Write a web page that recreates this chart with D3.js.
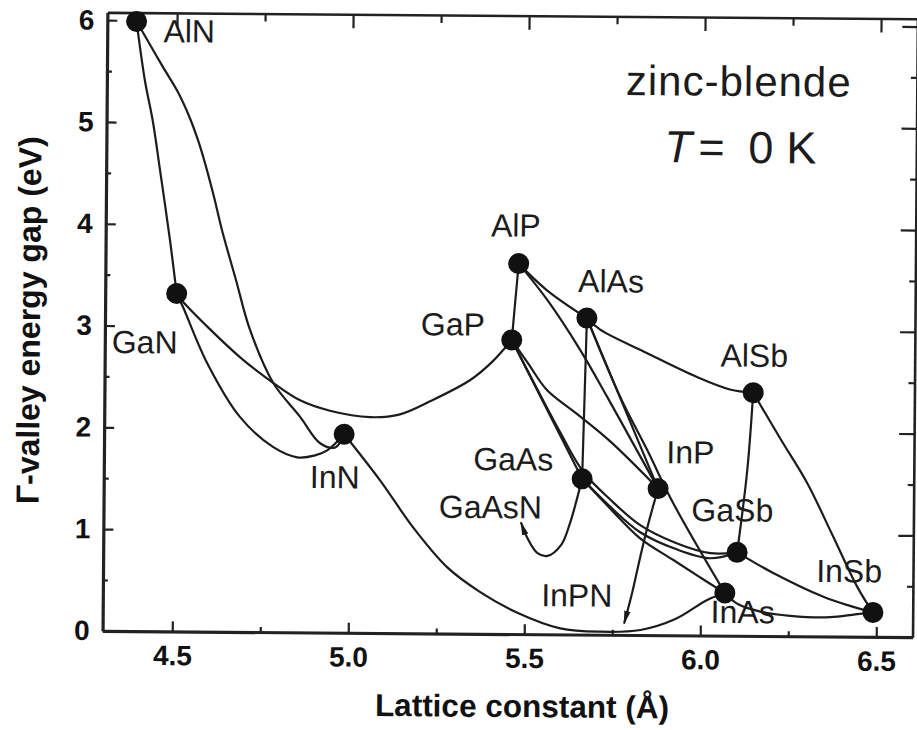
<!DOCTYPE html>
<html>
<head>
<meta charset="utf-8">
<script src="https://cdn.jsdelivr.net/npm/d3@7"></script>
<style>
  html, body { margin: 0; padding: 0; background: #fff; }
  svg { display: block; }
  text { font-family: "Liberation Sans", Arial, Helvetica, sans-serif; }
</style>
</head>
<body>
<svg id="chart" width="917" height="730"></svg>
<script>
// Binary zinc-blende compounds: lattice constant (Å) and Γ-valley gap at 0 K (eV)
const compounds    = ["AlN", "GaN", "InN", "AlP", "GaP", "AlAs", "AlSb", "GaAs", "InP", "GaSb", "InAs", "InSb"];
const latticeConst = [4.385, 4.505, 4.984, 5.476, 5.458, 5.671, 6.145, 5.661, 5.877, 6.103, 6.069, 6.490];
const gapEnergy    = [5.99,  3.32,  1.95,  3.64,  2.89,  3.11,  2.39,  1.53,  1.44,  0.82,  0.42,  0.24];

// Axis ticks
const xMajorTicks = [4.5, 5.0, 5.5, 6.0, 6.5];
const xMinorTicks = [4.75, 5.25, 5.75, 6.25];
const yMajorTicks = [0, 1, 2, 3, 4, 5, 6];
const yMinorTicks = [0.5, 1.5, 2.5, 3.5, 4.5, 5.5];

// Intermediate points [a (Å), Eg (eV)] along each ternary alloy curve
const AlN_GaN  = [[4.410, 5.41], [4.433, 5.02], [4.455, 4.53], [4.485, 3.84]];
const AlN_InN  = [[4.409, 5.85], [4.460, 5.55], [4.504, 5.30], [4.538, 5.05], [4.562, 4.83],
                  [4.582, 4.61], [4.609, 4.27], [4.632, 3.95], [4.673, 3.46], [4.714, 2.97],
                  [4.781, 2.45], [4.858, 2.12], [4.916, 1.86], [4.959, 1.82]];
const GaN_InN  = [[4.523, 3.19], [4.593, 2.64], [4.688, 2.11], [4.782, 1.82], [4.851, 1.72],
                  [4.902, 1.74], [4.936, 1.79]];
const GaN_GaP  = [[4.523, 3.24], [4.686, 2.70], [4.781, 2.45], [4.858, 2.28], [4.943, 2.18],
                  [5.057, 2.12], [5.142, 2.15], [5.227, 2.28], [5.340, 2.49], [5.402, 2.67]];
const InN_InAs = [[5.087, 1.50], [5.182, 1.04], [5.280, 0.65], [5.374, 0.41], [5.480, 0.21],
                  [5.602, 0.06], [5.716, 0.03], [5.830, 0.05], [5.929, 0.16], [6.019, 0.35]];
const AlP_GaP   = [];
const AlP_AlAs  = [[5.557, 3.38]];
const AlP_InP   = [[5.557, 3.29], [5.652, 2.80], [5.730, 2.34], [5.802, 1.90]];
const AlAs_GaAs = [];
const AlAs_InP  = [];
const AlAs_InAs = [[5.767, 2.34], [5.845, 1.82], [5.920, 1.30]];
const AlAs_AlSb = [[5.708, 3.00], [5.843, 2.77], [5.985, 2.54], [6.079, 2.42]];
const AlSb_GaSb = [[6.130, 1.63]];
const AlSb_InSb = [[6.225, 1.93], [6.300, 1.51], [6.373, 1.00], [6.445, 0.49]];
const GaP_GaAs  = [];
const GaP_InP   = [[5.505, 2.66], [5.559, 2.40], [5.640, 2.18], [5.740, 1.90]];
const GaP_GaSb  = [[5.525, 2.45], [5.597, 1.99], [5.664, 1.60], [5.741, 1.33], [5.827, 1.08],
                   [5.927, 0.91], [6.027, 0.81]];
const GaAs_GaSb = [[5.741, 1.26], [5.827, 1.01], [5.927, 0.85], [6.027, 0.76]];
const GaAs_InAs = [[5.747, 1.22], [5.827, 0.95], [5.922, 0.74], [5.999, 0.57]];
const GaSb_InSb = [[6.206, 0.62], [6.349, 0.39], [6.427, 0.30]];
const InAs_InSb = [[6.107, 0.31], [6.170, 0.24], [6.255, 0.20], [6.369, 0.19], [6.440, 0.22]];

// Dilute-nitride branches leaving a binary and ending in an arrow
const GaAsN = [[5.642, 1.27], [5.628, 1.10], [5.603, 0.88], [5.564, 0.77], [5.535, 0.80],
               [5.506, 0.95], [5.489, 1.09]];
const InPN  = [[5.849, 1.08], [5.828, 0.77], [5.806, 0.42], [5.784, 0.12]];

const alloyCurves = [
  ["AlN", "GaN", AlN_GaN], ["AlN", "InN", AlN_InN], ["GaN", "InN", GaN_InN],
  ["GaN", "GaP", GaN_GaP], ["InN", "InAs", InN_InAs],
  ["AlP", "GaP", AlP_GaP], ["AlP", "AlAs", AlP_AlAs], ["AlP", "InP", AlP_InP],
  ["AlAs", "GaAs", AlAs_GaAs], ["AlAs", "InP", AlAs_InP], ["AlAs", "InAs", AlAs_InAs],
  ["AlAs", "AlSb", AlAs_AlSb], ["AlSb", "GaSb", AlSb_GaSb], ["AlSb", "InSb", AlSb_InSb],
  ["GaP", "GaAs", GaP_GaAs], ["GaP", "InP", GaP_InP], ["GaP", "GaSb", GaP_GaSb],
  ["GaAs", "GaSb", GaAs_GaSb], ["GaAs", "InAs", GaAs_InAs],
  ["GaSb", "InSb", GaSb_InSb], ["InAs", "InSb", InAs_InSb]
];
const arrowCurves = [["GaAs", GaAsN], ["InP", InPN]];

// Label placement (pixel offsets from the marker each label belongs to)
const labelOffset = {
  AlN: [27, 20.5], GaN: [-64.5, 60], InN: [-34, 54], AlP: [-28, -27], GaP: [-91, -4],
  AlAs: [-9, -26], AlSb: [-33, -26], GaAs: [-109, -8], InP: [8, -25.5], GaSb: [-46, -31],
  InSb: [-57, -30], InAs: [-14, 30]
};
const curveLabels = [["GaAsN", "GaAs", [-143, 40]], ["InPN", "InP", [-116, 118.5]]];

// ---------------------------------------------------------------------------
const node = {};
compounds.forEach((c, i) => { node[c] = [latticeConst[i], gapEnergy[i]]; });

const frame = { left: 105, right: 915, top: 15.5, bottom: 634 };
const x = d3.scaleLinear().domain([4.302, 4.302 + (frame.right - frame.left) / 352]).range([frame.left, frame.right]);
const y = d3.scaleLinear().domain([0, 6.077]).range([frame.bottom, frame.top]);

const svg = d3.select("#chart");
svg.append("rect").attr("width", 917).attr("height", 730).attr("fill", "#fff");

const defs = svg.append("defs");
defs.append("marker")
  .attr("id", "arrowhead")
  .attr("viewBox", "0 -4 14 8")
  .attr("refX", 12).attr("refY", 0)
  .attr("markerWidth", 14).attr("markerHeight", 8)
  .attr("markerUnits", "userSpaceOnUse")
  .attr("orient", "auto")
  .append("path").attr("d", "M0,-3.2L14,0L0,3.2Z").attr("fill", "#1a1a1a");

const g = svg.append("g").attr("transform", "rotate(0.45,508,321)");

const ink = "#1c1c1c";

// Axes with inward ticks on all four sides
function styleAxis(sel, width) {
  sel.select(".domain").attr("stroke", "#222").attr("stroke-width", width);
  sel.selectAll(".tick line").attr("stroke", "#222").attr("stroke-width", 2.2);
  sel.selectAll(".tick text")
    .attr("fill", "#111")
    .style("font-size", "28px")
    .style("font-weight", "bold");
}

const bottomMajor = g.append("g").attr("transform", `translate(0,${frame.bottom})`)
  .call(d3.axisBottom(x).tickValues(xMajorTicks).tickSizeInner(-10).tickSizeOuter(0)
        .tickPadding(14).tickFormat(d3.format(".1f")));
styleAxis(bottomMajor, 3.2);
const bottomMinor = g.append("g").attr("transform", `translate(0,${frame.bottom})`)
  .call(d3.axisBottom(x).tickValues(xMinorTicks).tickSizeInner(-5).tickSizeOuter(0).tickFormat(""));
styleAxis(bottomMinor, 0);

const topMajor = g.append("g").attr("transform", `translate(0,${frame.top})`)
  .call(d3.axisTop(x).tickValues(xMajorTicks).tickSizeInner(-14).tickSizeOuter(0).tickFormat(""));
styleAxis(topMajor, 2.6);
const topMinor = g.append("g").attr("transform", `translate(0,${frame.top})`)
  .call(d3.axisTop(x).tickValues(xMinorTicks).tickSizeInner(-8).tickSizeOuter(0).tickFormat(""));
styleAxis(topMinor, 0);

const leftMajor = g.append("g").attr("transform", `translate(${frame.left},0)`)
  .call(d3.axisLeft(y).tickValues(yMajorTicks).tickSizeInner(-10).tickSizeOuter(0)
        .tickPadding(13).tickFormat(d3.format("d")));
styleAxis(leftMajor, 3.2);
const leftMinor = g.append("g").attr("transform", `translate(${frame.left},0)`)
  .call(d3.axisLeft(y).tickValues(yMinorTicks).tickSizeInner(-5).tickSizeOuter(0).tickFormat(""));
styleAxis(leftMinor, 0);

const rightMajor = g.append("g").attr("transform", `translate(${frame.right},0)`)
  .call(d3.axisRight(y).tickValues(yMajorTicks).tickSizeInner(-15).tickSizeOuter(0).tickFormat(""));
styleAxis(rightMajor, 2.6);
const rightMinor = g.append("g").attr("transform", `translate(${frame.right},0)`)
  .call(d3.axisRight(y).tickValues(yMinorTicks).tickSizeInner(-6).tickSizeOuter(0).tickFormat(""));
styleAxis(rightMinor, 0);

// Axis titles
g.append("text")
  .attr("x", 525).attr("y", 717)
  .attr("text-anchor", "middle")
  .attr("fill", "#111")
  .style("font-size", "31.5px").style("font-weight", "bold")
  .text("Lattice constant (Å)");

g.append("text")
  .attr("transform", "translate(40,324) rotate(-90)")
  .attr("text-anchor", "middle")
  .attr("fill", "#111")
  .style("font-size", "32px").style("font-weight", "bold")
  .text("Γ-valley energy gap (eV)");

// Alloy curves
const line = d3.line()
  .x(d => x(d[0]))
  .y(d => y(d[1]))
  .curve(d3.curveCatmullRom.alpha(0.5));

const curveLayer = g.append("g")
  .attr("fill", "none")
  .attr("stroke", ink)
  .attr("stroke-width", 2.2)
  .attr("stroke-linejoin", "round")
  .attr("stroke-linecap", "round");

curveLayer.selectAll("path.alloy")
  .data(alloyCurves)
  .join("path")
  .attr("class", "alloy")
  .attr("d", d => line([node[d[0]], ...d[2], node[d[1]]]));

curveLayer.selectAll("path.nitride")
  .data(arrowCurves)
  .join("path")
  .attr("class", "nitride")
  .attr("marker-end", "url(#arrowhead)")
  .attr("d", d => line([node[d[0]], ...d[1]]));

// Binary compound markers
g.append("g").selectAll("circle")
  .data(compounds)
  .join("circle")
  .attr("cx", d => x(node[d][0]))
  .attr("cy", d => y(node[d][1]))
  .attr("r", 10.5)
  .attr("fill", "#111");

// Compound labels
const labelLayer = g.append("g")
  .attr("fill", ink)
  .style("font-size", "32px");

labelLayer.selectAll("text.compound")
  .data(compounds)
  .join("text")
  .attr("class", "compound")
  .attr("x", d => x(node[d][0]) + labelOffset[d][0])
  .attr("y", d => y(node[d][1]) + labelOffset[d][1])
  .text(d => d);

labelLayer.selectAll("text.curve")
  .data(curveLabels)
  .join("text")
  .attr("class", "curve")
  .attr("x", d => x(node[d[1]][0]) + d[2][0])
  .attr("y", d => y(node[d[1]][1]) + d[2][1])
  .text(d => d[0]);

// Structure and temperature note
g.append("text")
  .attr("x", 624).attr("y", 94)
  .attr("fill", ink)
  .style("font-size", "42px")
  .style("letter-spacing", "1px")
  .text("zinc-blende");

const tNote = g.append("text")
  .attr("y", 161)
  .attr("fill", ink)
  .style("font-size", "45px");
tNote.append("tspan").attr("x", 663).style("font-style", "italic").text("T");
tNote.append("tspan").attr("x", 697).text("=");
tNote.append("tspan").attr("x", 747).text("0");
tNote.append("tspan").attr("x", 785).text("K");
</script>
</body>
</html>
